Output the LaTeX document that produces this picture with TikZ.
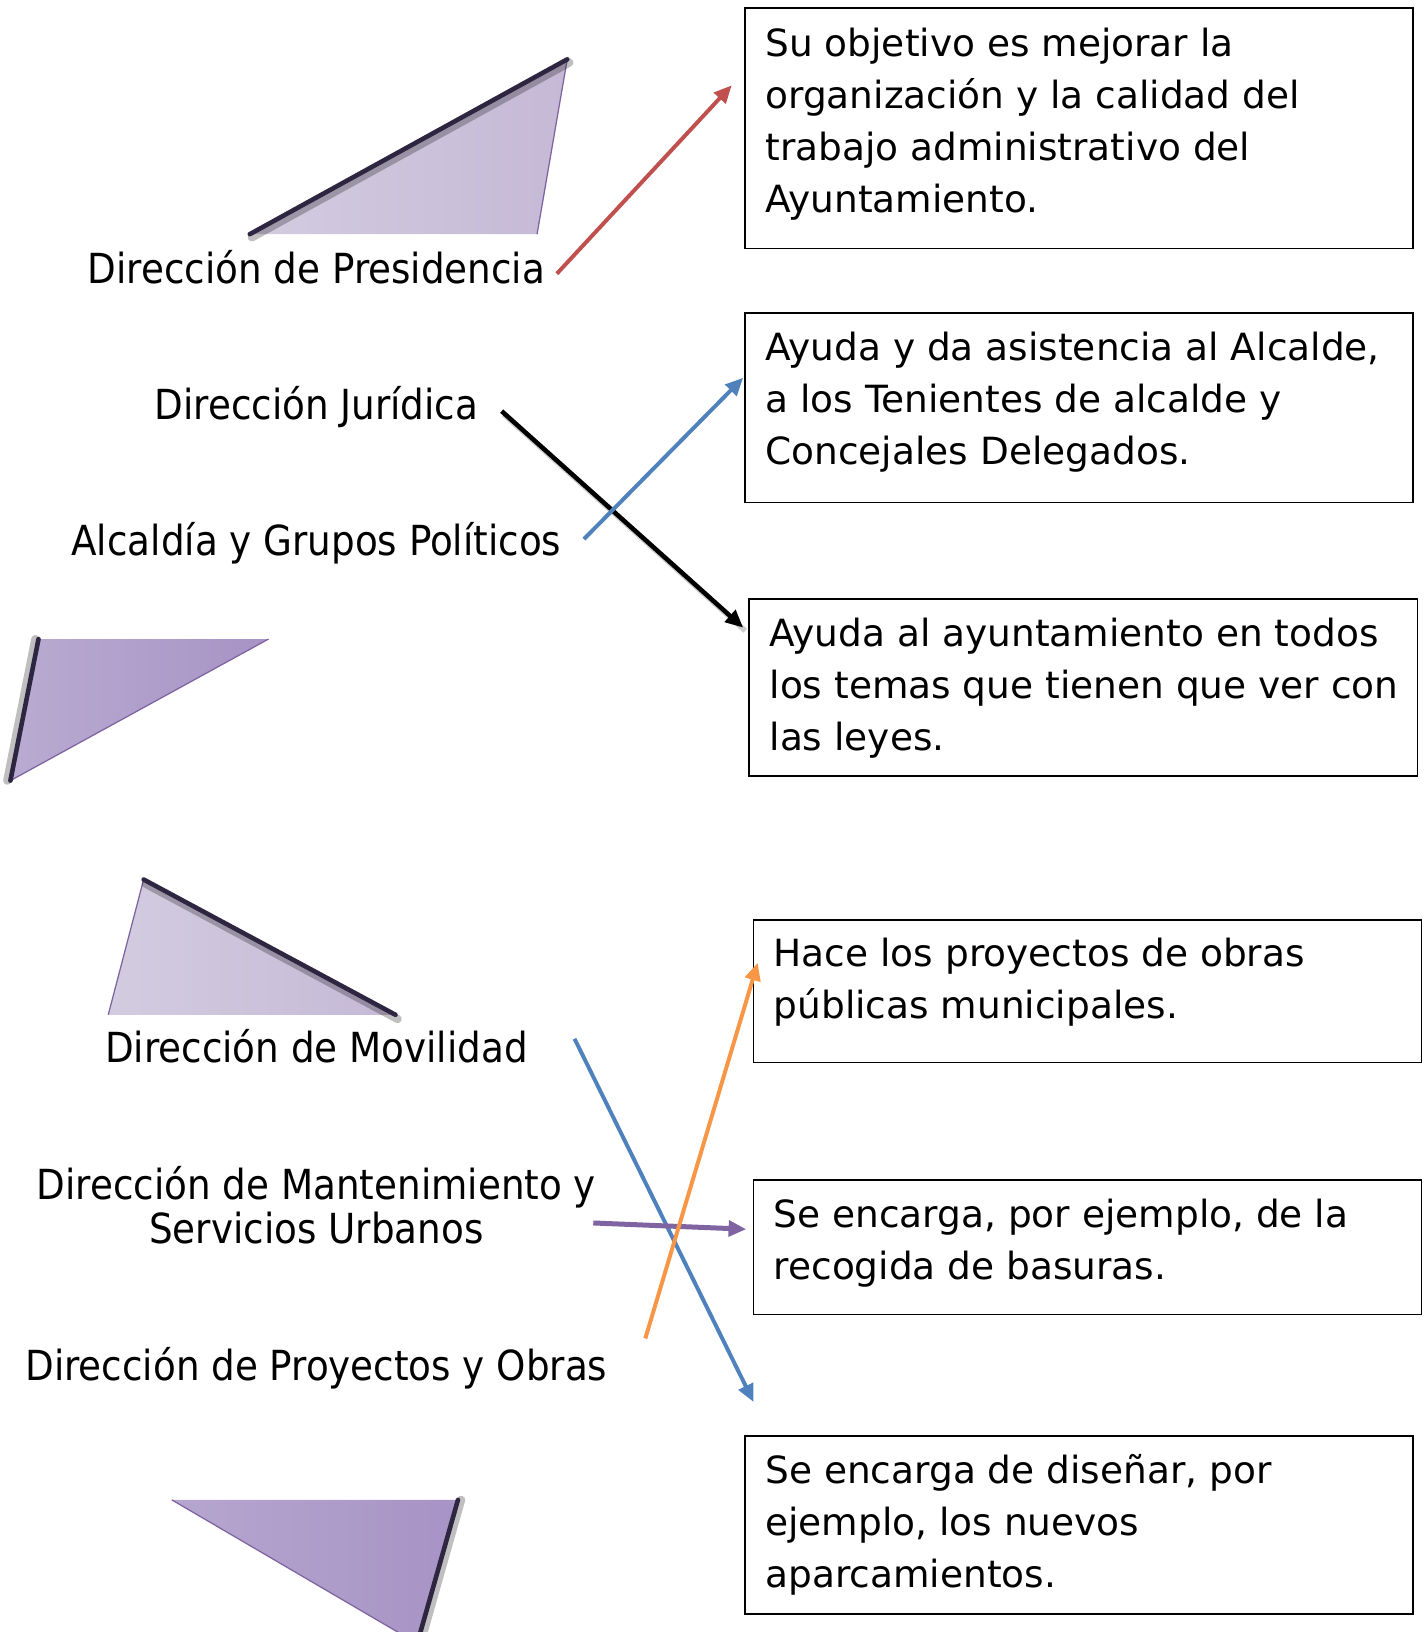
\documentclass[tikz,border=0pt]{standalone}
\usepackage{fontspec}
\setmainfont{DejaVu Sans}
\newfontfamily\labfont{DejaVu Sans Condensed}
\usetikzlibrary{arrows.meta}
\definecolor{ored}{HTML}{C0504D}
\definecolor{oblue}{HTML}{4F81BD}
\definecolor{oorange}{HTML}{F79646}
\definecolor{opurple}{HTML}{8064A2}
\definecolor{tdark}{HTML}{2E2540}
\definecolor{tlightA}{HTML}{D3CCE0}
\definecolor{tlightB}{HTML}{C5B9D6}
\definecolor{tmidA}{HTML}{B9ABD1}
\definecolor{tmidB}{HTML}{A793C5}
\definecolor{tedge}{HTML}{7F63A1}
\begin{document}
\begin{tikzpicture}[x=0.5pt,y=-0.5pt,
  descbox/.style={draw=black, line width=0.7pt, anchor=north west, inner sep=0pt, minimum width=321pt},
  desctext/.style={anchor=base west, inner sep=0pt, align=left, font=\fontsize{18}{25}\selectfont},
  lab/.style={anchor=base, inner sep=0pt, align=center, font=\labfont\fontsize{19.9}{21.5}\selectfont},
  conn/.style={line width=1.9pt, -{Triangle[length=8.5pt,width=7.5pt]}},
  darkedge/.style={draw=tdark, line width=2.2pt, line cap=round},
  darkshadow/.style={draw=black, opacity=0.25, line width=4pt, line cap=round},
  thinedge/.style={draw=tedge, line width=0.6pt}
]
\useasboundingbox (0,0) rectangle (1370,1568);
\begin{scope}
\clip (0,0) rectangle (1370,1568);
% triangle 1
\shade[left color=tlightA, right color=tlightB] (240,225) -- (545,57) -- (516,225) -- cycle;
\draw[thinedge] (545,57) -- (516,225);
\draw[darkshadow] (242,228) -- (547,60);
\draw[darkedge] (240,225) -- (545,57);
% triangle 2
\shade[left color=tmidA, right color=tmidB] (37,614) -- (258,614) -- (10,750) -- cycle;
\draw[thinedge] (258,614) -- (10,750);
\draw[darkshadow] (34,614) -- (7,750);
\draw[darkedge] (37,614) -- (10,750);
% triangle 3
\shade[left color=tlightA, right color=tlightB] (138,845) -- (380,975) -- (104,975) -- cycle;
\draw[thinedge] (138,845) -- (104,975);
\draw[darkshadow] (140,849) -- (382,979);
\draw[darkedge] (138,845) -- (380,975);
% triangle 4
\shade[left color=tmidA!80!tmidB, right color=tmidB] (165,1441) -- (440,1441) -- (402,1575) -- (394,1575) -- cycle;
\draw[thinedge] (165,1441) -- (394,1575);
\draw[darkshadow] (443,1441) -- (405,1575);
\draw[darkedge] (440,1441) -- (402,1575);
\end{scope}

% description boxes
\node[descbox, minimum height=115.5pt] (b1) at (715,7) {};
\node[descbox, minimum height=91pt] (b2) at (715,300) {};
\node[descbox, minimum height=85pt] (b3) at (719,575) {};
\node[descbox, minimum height=68.5pt] (b4) at (723,883) {};
\node[descbox, minimum height=64.5pt] (b5) at (723,1133) {};
\node[descbox, minimum height=85.5pt] (b6) at (715,1379) {};

% texts (anchored at the baseline of their last line)
\node[desctext] (t1) at (735,204) {Su objetivo es mejorar la\\organización y la calidad del\\trabajo administrativo del\\Ayuntamiento.};
\node[desctext] (t2) at (735,446) {Ayuda y da asistencia al Alcalde,\\a los Tenientes de alcalde y\\Concejales Delegados.};
\node[desctext] (t3) at (739,721) {Ayuda al ayuntamiento en todos\\los temas que tienen que ver con\\las leyes.};
\node[desctext] (t4) at (743,979) {Hace los proyectos de obras\\públicas municipales.};
\node[desctext] (t5) at (743,1229) {Se encarga, por ejemplo, de la\\recogida de basuras.};
\node[desctext] (t6) at (735,1525) {Se encarga de diseñar, por\\ejemplo, los nuevos\\aparcamientos.};

% left labels
\node[lab] (l1) at (304,272) {Dirección de Presidencia};
\node[lab] (l2) at (304,403) {Dirección Jurídica};
\node[lab] (l3) at (304,534) {Alcaldía y Grupos Políticos};
\node[lab] (l4) at (304,1021) {Dirección de Movilidad};
\node[lab] (l5) at (304,1195) {Dirección de Mantenimiento y\\Servicios Urbanos};
\node[lab] (l6) at (304,1326) {Dirección de Proyectos y Obras};

% connector ends
\coordinate (r1s) at (535,263);  \coordinate (r1e) at (703,82);
\coordinate (k1s) at (482,395);  \coordinate (k1e) at (714,603);
\coordinate (u1s) at (561,518);  \coordinate (u1e) at (714,363);
\coordinate (u2s) at (552,998);  \coordinate (u2e) at (724,1347);
\coordinate (o1s) at (620,1286); \coordinate (o1e) at (728,925);
\coordinate (p1s) at (570,1175); \coordinate (p1e) at (717,1181);

% connectors
\draw[conn, ored] (r1s) -- (r1e);
\draw[line width=2.6pt, black, opacity=0.2] ([shift={(2,3)}]k1s) -- ([shift={(2,3)}]k1e);
\draw[conn, black, line width=2.2pt] (k1s) -- (k1e);
\draw[conn, oblue] (u1s) -- (u1e);
\draw[conn, oblue] (u2s) -- (u2e);
\draw[conn, opurple, line width=2.4pt] (p1s) -- (p1e);
\draw[conn, oorange] (o1s) -- (o1e);
\end{tikzpicture}
\end{document}
